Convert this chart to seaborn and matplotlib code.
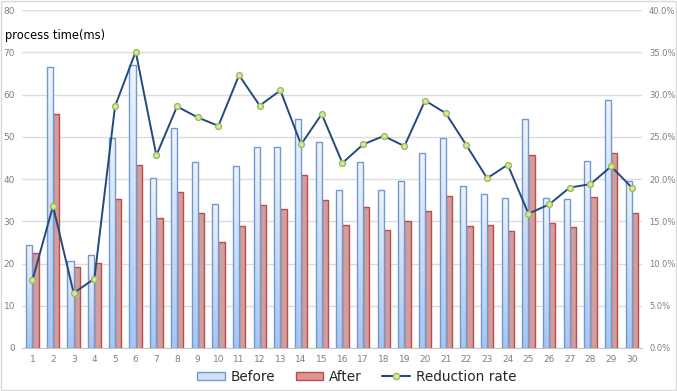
import numpy as np
import pandas as pd
import seaborn as sns
import matplotlib.pyplot as plt
from matplotlib.patches import Patch, Rectangle
from matplotlib.lines import Line2D
from matplotlib.ticker import FuncFormatter
from matplotlib.colors import LinearSegmentedColormap


# values
runs = [str(i) for i in range(1, 31)]

before = [24.5, 66.5, 20.5, 22.0, 49.8, 67.0, 40.2, 52.0, 44.0, 34.0,
          43.0, 47.5, 47.5, 54.2, 48.8, 37.5, 44.0, 37.5, 39.5, 46.2,
          49.8, 38.3, 36.5, 35.5, 54.3, 35.5, 35.4, 44.3, 58.7, 39.6]

after = [22.5, 55.3, 19.2, 20.2, 35.4, 43.4, 30.9, 37.0, 31.9, 25.0,
         29.0, 33.9, 32.9, 40.9, 35.1, 29.2, 33.5, 28.0, 30.0, 32.5,
         35.9, 29.0, 29.2, 27.6, 45.7, 29.5, 28.7, 35.8, 46.1, 32.0]

reduction = [8.0, 16.8, 6.5, 8.2, 28.6, 35.1, 22.8, 28.6, 27.3, 26.3,
             32.3, 28.7, 30.5, 24.1, 27.7, 21.9, 24.1, 25.1, 23.9, 29.3,
             27.8, 24.0, 20.1, 21.7, 15.9, 17.0, 19.0, 19.4, 21.5, 19.0]

df = pd.DataFrame({
    'run': runs * 2,
    'time': before + after,
    'kind': ['Before'] * 30 + ['After'] * 30,
})

sns.set_style('white')
plt.rcParams['font.family'] = ['DejaVu Sans']

fig = plt.figure(figsize=(6.77, 3.91), dpi=100)
ax = fig.add_axes([0.0325, 0.110, 0.916, 0.864])

blue_face, blue_edge = '#cfe0f7', '#7199d0'
red_face, red_edge = '#d99694', '#be4b48'

sns.barplot(data=df, x='run', y='time', hue='kind', order=runs,
            palette={'Before': blue_face, 'After': red_face},
            width=0.6, gap=0, linewidth=1.0, ax=ax, legend=False, zorder=2)

ax.set_xlim(-0.5, 29.5)
ax.set_ylim(0, 80)

# soft vertical gradient inside the Before bars
blue_grad = LinearSegmentedColormap.from_list('bg', ['#a6c6f2', '#eef4fd'])
grad = np.linspace(0, 1, 64).reshape(-1, 1)
n = len(runs)
for i, p in enumerate(ax.patches[:2 * n]):
    if i < n:
        p.set_edgecolor(blue_edge)
        x0, y0 = p.get_x(), p.get_y()
        w, h = p.get_width(), p.get_height()
        im = ax.imshow(grad, extent=[x0, x0 + w, y0, y0 + h], origin='lower',
                       aspect='auto', cmap=blue_grad, zorder=2.1)
        im.set_clip_path(p)
        p.set_zorder(2.2)
        p.set_facecolor('none')
    else:
        p.set_edgecolor(red_edge)

ax.set_xlim(-0.5, 29.5)
ax.set_ylim(0, 80)
ax.set_aspect('auto')
ax.set_yticks(range(0, 81, 10))
ax.set_xlabel('')
ax.set_ylabel('')
ax.grid(axis='y', color='#dcdcdc', linewidth=1.0, zorder=0)
ax.set_axisbelow(True)
for s in ['top', 'right', 'left']:
    ax.spines[s].set_visible(False)
ax.spines['bottom'].set_color('#c8c8c8')
ax.tick_params(axis='both', length=0, labelsize=6.5, labelcolor='#7f7f7f', pad=5)

ax2 = ax.twinx()
sns.lineplot(x=np.arange(n), y=reduction, ax=ax2, color='#23497e', linewidth=1.4,
             marker='o', markersize=4.2, markerfacecolor='#d6e8a4',
             markeredgecolor='#9bbb59', markeredgewidth=1.0, zorder=3)
ax2.set_ylim(0, 40)
ax2.set_yticks(range(0, 41, 5))
ax2.yaxis.set_major_formatter(FuncFormatter(lambda v, _: f'{v:.1f}%'))
for s in ax2.spines.values():
    s.set_visible(False)
ax2.tick_params(axis='y', length=0, labelsize=6, labelcolor='#7f7f7f', pad=5)

fig.text(0.008, 0.908, 'process time(ms)', fontsize=8.3, color='black', va='center')

handles = [
    Patch(facecolor=blue_face, edgecolor=blue_edge, label='Before'),
    Patch(facecolor=red_face, edgecolor=red_edge, label='After'),
    Line2D([0], [0], color='#23497e', marker='o', markersize=4.5,
           markerfacecolor='#d6e8a4', markeredgecolor='#9bbb59', label='Reduction rate'),
]
fig.legend(handles=handles, loc='center', bbox_to_anchor=(0.527, 0.036), ncol=3,
           frameon=False, fontsize=9.8, handlelength=2.0, handleheight=0.6,
           columnspacing=1.5, handletextpad=0.45)

fig.patches.append(Rectangle((0.001, 0.003), 0.997, 0.995, transform=fig.transFigure,
                             fill=False, edgecolor='#d9d9d9', linewidth=1.0))

fig.savefig('out.png', dpi=100)
